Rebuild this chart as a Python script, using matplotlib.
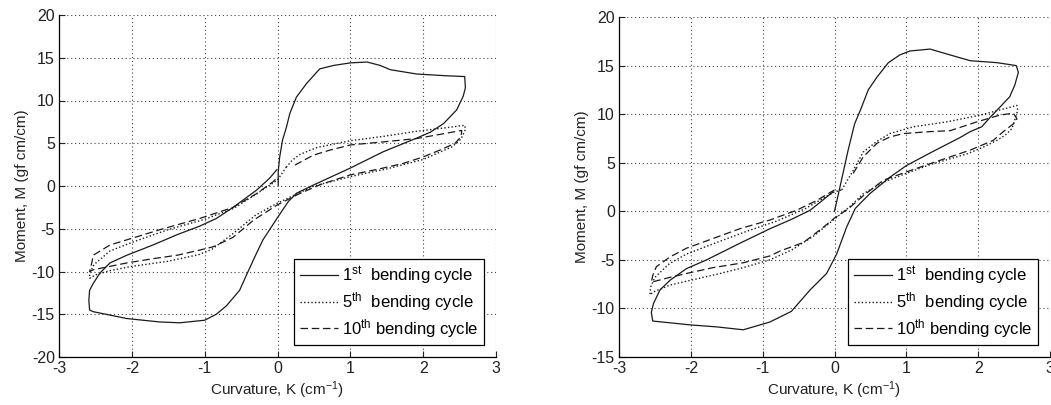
import numpy as np
import matplotlib
matplotlib.use("Agg")
import matplotlib.pyplot as plt

plt.rcParams['font.family'] = ['Liberation Sans', 'DejaVu Sans']
plt.rcParams['mathtext.fontset'] = 'custom'
plt.rcParams['mathtext.rm'] = 'Liberation Sans'
plt.rcParams['mathtext.it'] = 'Liberation Sans'
plt.rcParams['axes.unicode_minus'] = False

# ---------------------------------------------------------------------------
# data (curvature K, moment M)
# ---------------------------------------------------------------------------

# left panel, 1st bending cycle
k1_left = [0.01, 0.01, 0.03, 0.07, 0.12, 0.17, 0.26, 0.40, 0.58, 0.77, 1.00, 1.23, 1.41, 1.55, 1.91, 2.30, 2.57,
           2.58, 2.55, 2.46, 2.28, 2.10, 1.91, 1.45, 1.00, 0.49, 0.26, 0.15, 0.00, -0.20, -0.29, -0.42, -0.52,
           -0.70, -0.84, -1.00, -1.34, -1.62, -2.07, -2.53, -2.58, -2.59, -2.58, -2.53, -2.44, -2.30, -2.07,
           -1.71, -1.38, -1.07, -0.84, -0.61, -0.29, -0.11, -0.01]
m1_left = [0.1, 1.7, 3.4, 5.4, 6.8, 8.5, 10.4, 12.0, 13.7, 14.1, 14.4, 14.5, 14.1, 13.6, 13.1, 12.9, 12.8,
           11.5, 10.5, 8.9, 7.3, 6.3, 5.6, 4.0, 2.1, 0.1, -0.85, -1.8, -3.7, -6.3, -7.9, -10.3, -12.2,
           -14.0, -15.0, -15.7, -16.0, -15.9, -15.5, -14.7, -14.5, -13.4, -12.2, -11.4, -10.2, -9.0, -8.1,
           -6.9, -5.7, -4.7, -3.8, -2.5, -0.5, 0.9, 1.9]

# left panel, 5th bending cycle
k5_left = [0.12, 0.20, 0.31, 0.54, 1.00, 1.45, 1.91, 2.30, 2.57, 2.58, 2.52, 2.40, 2.00, 1.50, 1.00, 0.50,
           0.30, 0.00, -0.30, -0.60, -0.90, -1.07, -1.50, -2.00, -2.30, -2.50, -2.58, -2.58, -2.52, -2.30,
           -2.00, -1.50, -1.00, -0.60, -0.30, 0.00, 0.12]
m5_left = [2.2, 3.0, 3.7, 4.5, 5.3, 5.8, 6.4, 6.8, 7.1, 6.6, 5.5, 4.6, 3.1, 2.0, 1.1, 0.0,
           -0.8, -2.0, -3.4, -5.5, -7.4, -8.0, -8.8, -9.4, -9.9, -10.4, -10.8, -10.2, -9.2, -7.6,
           -6.6, -5.1, -3.9, -2.6, -1.0, 0.7, 2.2]

# left panel, 10th bending cycle
k10_left = [0.24, 0.49, 0.72, 1.00, 1.45, 1.91, 2.14, 2.53, 2.52, 2.44, 2.23, 2.00, 1.73, 1.40, 1.00, 0.60,
            0.30, 0.00, -0.33, -0.61, -0.88, -1.07, -1.38, -1.71, -2.07, -2.30, -2.53, -2.58, -2.55, -2.53,
            -2.30, -2.07, -1.61, -1.07, -0.61, -0.29, -0.06, 0.00]
m10_left = [2.45, 3.6, 4.2, 4.8, 5.16, 5.55, 5.9, 6.5, 5.8, 5.0, 4.2, 3.4, 2.65, 2.0, 1.3, 0.2,
            -0.9, -2.2, -4.0, -6.0, -7.1, -7.5, -8.1, -8.5, -9.0, -9.4, -9.8, -10.0, -9.0, -8.1,
            -6.9, -6.3, -5.1, -3.8, -2.5, -0.9, 0.5, 1.0]

# right panel, 1st bending cycle
k1_right = [0.00, 0.10, 0.19, 0.28, 0.36, 0.47, 0.59, 0.75, 0.91, 1.05, 1.33, 1.56, 1.89, 2.26, 2.53,
            2.56, 2.51, 2.44, 2.30, 2.17, 2.05, 1.89, 1.75, 1.33, 1.00, 0.77, 0.49, 0.29, 0.17, 0.03,
            -0.11, -0.34, -0.60, -0.90, -1.27, -1.64, -2.00, -2.53, -2.55, -2.52, -2.43, -2.29, -2.06,
            -1.78, -1.32, -0.90, -0.62, -0.34, -0.02]
m1_right = [0.0, 3.3, 6.3, 9.0, 10.4, 12.5, 13.8, 15.3, 16.1, 16.5, 16.7, 16.2, 15.5, 15.3, 15.0,
            14.3, 13.0, 11.8, 10.7, 9.7, 8.7, 8.2, 7.6, 6.0, 4.7, 3.5, 1.8, 0.3, -1.6, -4.4,
            -6.4, -8.1, -10.3, -11.4, -12.2, -11.9, -11.7, -11.3, -10.4, -9.5, -8.1, -7.1, -5.9,
            -5.0, -3.3, -1.8, -0.9, 0.1, 2.0]

# right panel, 5th bending cycle
k5_right = [0.10, 0.26, 0.40, 0.59, 0.77, 1.10, 1.56, 2.03, 2.44, 2.54, 2.55, 2.51, 2.47, 2.37, 2.26, 2.07,
            1.84, 1.33, 1.00, 0.68, 0.40, 0.20, 0.00, -0.30, -0.60, -0.90, -1.27, -1.59, -2.06, -2.29,
            -2.52, -2.57, -2.56, -2.50, -2.30, -2.06, -1.60, -1.20, -0.80, -0.40, 0.00, 0.10]
m5_right = [2.2, 4.2, 6.1, 7.2, 8.0, 8.7, 9.2, 9.9, 10.7, 10.9, 10.4, 9.4, 8.5, 7.8, 7.3, 6.6,
            5.9, 4.8, 3.9, 3.0, 1.8, 0.4, -0.8, -2.6, -4.0, -5.0, -5.8, -6.4, -7.2, -7.6,
            -8.3, -8.6, -7.8, -6.8, -5.4, -4.4, -3.1, -2.0, -1.0, 0.3, 2.0, 2.2]

# right panel, 10th bending cycle
k10_right = [0.26, 0.40, 0.59, 0.77, 0.96, 1.33, 1.61, 1.98, 2.30, 2.49, 2.54, 2.49, 2.35, 2.21, 1.89,
             1.33, 1.00, 0.68, 0.40, 0.20, 0.00, -0.20, -0.43, -0.76, -0.90, -1.27, -1.69, -2.06, -2.29,
             -2.55, -2.53, -2.48, -2.29, -2.06, -1.69, -1.32, -0.90, -0.53, -0.25, 0.00]
m10_right = [3.9, 5.6, 7.0, 7.65, 8.0, 8.2, 8.3, 9.2, 9.9, 10.1, 9.5, 9.0, 8.2, 7.3, 6.3,
             4.9, 4.05, 3.2, 1.6, 0.3, -0.7, -1.9, -3.2, -4.1, -4.6, -5.3, -5.8, -6.4, -6.8,
             -7.3, -6.6, -5.7, -4.7, -3.8, -2.8, -1.8, -0.9, 0.1, 1.1, 2.2]

legend_labels = ['1$^{\\mathrm{st}}$  bending cycle',
                 '5$^{\\mathrm{th}}$  bending cycle',
                 '10$^{\\mathrm{th}}$ bending cycle']

x_ticks = [-3, -2, -1, 0, 1, 2, 3]
y_ticks_left = [-20, -15, -10, -5, 0, 5, 10, 15, 20]
y_ticks_right = [-15, -10, -5, 0, 5, 10, 15, 20]

# ---------------------------------------------------------------------------
# figure
# ---------------------------------------------------------------------------

fig = plt.figure(figsize=(10.51, 4.05), dpi=100)
ax_l = fig.add_axes([59 / 1051, 48 / 405, 437 / 1051, 342 / 405])
ax_r = fig.add_axes([619 / 1051, 48 / 405, 431 / 1051, 340 / 405])

line_col = '#1a1a1a'
styles = [dict(ls='-', lw=0.9),
          dict(ls=(0, (1, 1.6)), lw=1.0),
          dict(ls=(0, (6, 3)), lw=0.9)]

panels = [
    (ax_l, [(k1_left, m1_left), (k5_left, m5_left), (k10_left, m10_left)], (-20, 20), y_ticks_left),
    (ax_r, [(k1_right, m1_right), (k5_right, m5_right), (k10_right, m10_right)], (-15, 20), y_ticks_right),
]

for ax, series, ylim, yticks in panels:
    for (k, m), st, lab in zip(series, styles, legend_labels):
        ax.plot(k, m, color=line_col, label=lab, **st)

    ax.set_xlim(-3, 3)
    ax.set_ylim(*ylim)
    ax.set_xticks(x_ticks)
    ax.set_yticks(yticks)
    ax.grid(True, color='#444444', ls=(0, (1, 2.5)), lw=0.8)
    ax.set_axisbelow(True)
    ax.spines['top'].set_visible(False)
    ax.spines['right'].set_visible(False)
    ax.spines['left'].set_linewidth(0.9)
    ax.spines['bottom'].set_linewidth(0.9)
    ax.tick_params(direction='in', length=4, width=0.8, labelsize=11.5, colors='#222222', pad=3)
    ax.set_xlabel('Curvature, K (cm$^{\\mathrm{-1}}$)', fontsize=11, color='#222222', labelpad=2)
    ax.set_ylabel('Moment, M (gf cm/cm)', fontsize=11, color='#222222', labelpad=2)

    leg = ax.legend(loc='lower right', fontsize=12, handlelength=2.3, handletextpad=0.25,
                    labelspacing=0.2, borderaxespad=0.7, borderpad=0.35,
                    fancybox=False, framealpha=1, edgecolor='black')
    leg.get_frame().set_linewidth(0.9)

fig.savefig('out.png', dpi=100)
